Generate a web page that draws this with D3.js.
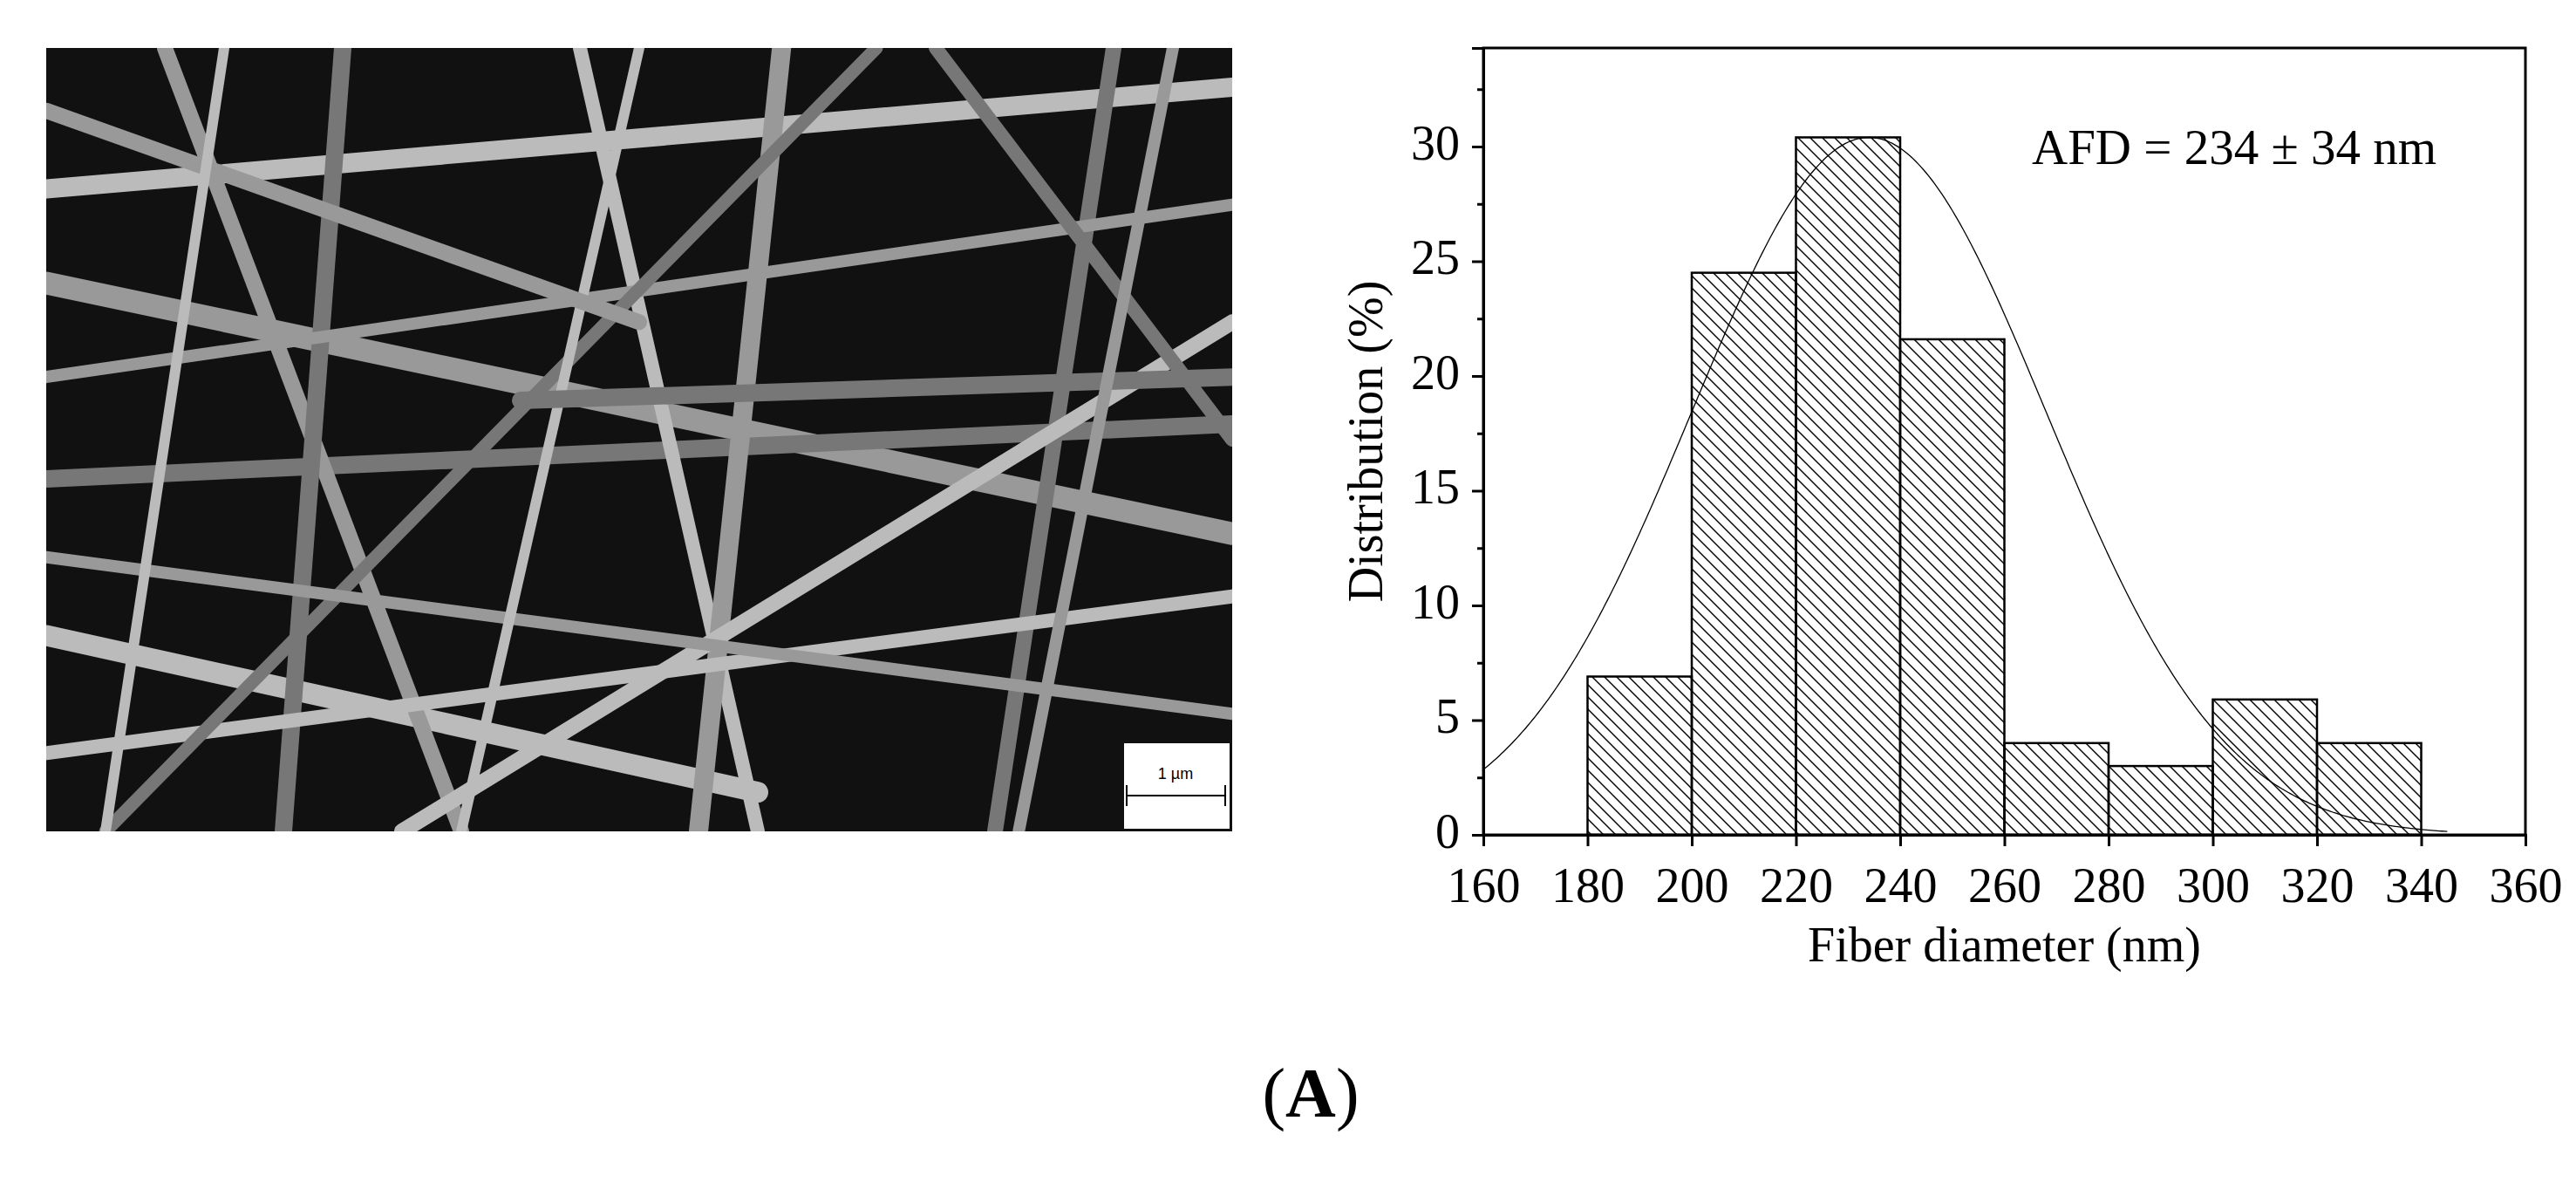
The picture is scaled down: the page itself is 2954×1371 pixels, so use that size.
<!DOCTYPE html>
<html><head><meta charset="utf-8">
<script src="https://cdn.jsdelivr.net/npm/d3@7"></script>
<style>body{margin:0;background:#fff}svg{display:block}text{font-family:"Liberation Serif","Times New Roman",serif}</style>
</head><body>
<svg id="c" width="2954" height="1371"></svg>
<script>
const binStarts = [180,200,220,240,260,280,300,320];
const binWidth = 20;
const distribution = [6.9,24.5,30.4,21.6,4,3,5.9,4];
const xTicks = [160,180,200,220,240,260,280,300,320,340,360];
const yTicks = [0,5,10,15,20,25,30];
const fitMean = 234, fitSd = 34, fitPeak = 30.4;
// decorative fibers for the micrograph panel (normalized image coords)
const fibers = [
 [0,0.18,1,0.05,22],[0,0.3,1,0.62,26],[0,0.55,1,0.48,20],[0,0.75,0.6,0.95,24],[0.1,0,0.35,1,18],
 [0.25,0,0.2,1,20],[0.45,0,0.6,1,16],[0.62,0,0.55,1,22],[0.9,0,0.8,1,18],[0,0.9,1,0.7,16],
 [0,0.42,1,0.2,14],[0.05,1,0.7,0,15],[0.3,1,1,0.35,18],[0,0.65,1,0.85,14],[0.75,0,1,0.5,16],
 [0.5,0,0.35,1,12],[0,0.08,0.5,0.35,18],[0.4,0.45,1,0.42,20],[0.15,0,0.05,1,12],[0.82,1,0.95,0,14]
];

const svg = d3.select("#c");
const img = {x:53,y:55,w:1360,h:898};
const g0 = svg.append("g");
g0.append("rect").attr("x",img.x).attr("y",img.y).attr("width",img.w).attr("height",img.h).attr("fill","#111");
const ix = d3.scaleLinear([0,1],[img.x,img.x+img.w]), iy = d3.scaleLinear([0,1],[img.y,img.y+img.h]);
g0.append("clipPath").attr("id","ic").append("rect").attr("x",img.x).attr("y",img.y).attr("width",img.w).attr("height",img.h);
const fg = g0.append("g").attr("clip-path","url(#ic)");
fibers.forEach((f,i)=>{
  fg.append("line").attr("x1",ix(f[0])).attr("y1",iy(f[1])).attr("x2",ix(f[2])).attr("y2",iy(f[3]))
   .attr("stroke",i%3==0?"#bbb":i%3==1?"#999":"#777").attr("stroke-width",f[4]).attr("stroke-linecap","round");
});
g0.append("rect").attr("x",1289).attr("y",852).attr("width",121).attr("height",98).attr("fill","#fff");
g0.append("line").attr("x1",1292).attr("x2",1405).attr("y1",912).attr("y2",912).attr("stroke","#000").attr("stroke-width",2);
g0.append("line").attr("x1",1292).attr("x2",1292).attr("y1",900).attr("y2",924).attr("stroke","#000").attr("stroke-width",2);
g0.append("line").attr("x1",1405).attr("x2",1405).attr("y1",900).attr("y2",924).attr("stroke","#000").attr("stroke-width",2);
g0.append("text").attr("x",1348).attr("y",893).attr("text-anchor","middle").style("font-family","Liberation Sans").attr("font-size",18).text("1 µm");

const L=1701,R=2896,T=55,B=957;
const x = d3.scaleLinear([160,360],[L,R]);
const y = d3.scaleLinear([0,(B-T)/(789/30)],[B,T]);
const defs = svg.append("defs");
const p = defs.append("pattern").attr("id","hatch").attr("patternUnits","userSpaceOnUse").attr("width",14).attr("height",14);
p.append("path").attr("d","M-2,-2 L16,16 M-16,-2 L2,16 M12,-2 L30,16").attr("stroke","#000").attr("stroke-width",1.4);
const g = svg.append("g");
g.selectAll("rect.bar").data(distribution).join("rect").attr("class","bar")
 .attr("x",(d,i)=>x(binStarts[i])).attr("width",(d,i)=>x(binStarts[i]+binWidth)-x(binStarts[i]))
 .attr("y",d=>y(d)).attr("height",d=>B-y(d))
 .attr("fill","url(#hatch)").attr("stroke","#000").attr("stroke-width",2.5);
const xs = d3.range(160,345.5,0.5);
g.append("path").datum(xs).attr("fill","none").attr("stroke","#000").attr("stroke-width",1.3)
 .attr("d",d3.line().x(d=>x(d)).y(d=>y(fitPeak*Math.exp(-((d-fitMean)**2)/(2*fitSd*fitSd)))));
g.append("rect").attr("x",L).attr("y",T).attr("width",R-L).attr("height",B-T).attr("fill","none").attr("stroke","#000").attr("stroke-width",3);
const xa = g.append("g").attr("transform",`translate(0,${B})`).call(d3.axisBottom(x).tickValues(xTicks).tickSize(13).tickPadding(24));
const ya = g.append("g").attr("transform",`translate(${L},0)`).call(d3.axisLeft(y).tickValues(yTicks).tickSize(13).tickPadding(14));
const yMinor = d3.range(2.5,34,5);
g.append("g").attr("transform",`translate(${L},0)`).call(d3.axisLeft(y).tickValues(yMinor).tickSize(7).tickFormat(""))
 .call(s=>s.select(".domain").remove());
[xa,ya].forEach(a=>{a.select(".domain").attr("stroke-width",3);
  a.selectAll("text").attr("font-size",56).attr("fill","#000").style("font-family","Liberation Serif");});
ya.selectAll("text").attr("dy","0.25em");
svg.selectAll(".tick line").attr("stroke-width",3);
svg.append("text").attr("x",(L+R)/2).attr("y",1102).attr("text-anchor","middle").attr("font-size",56).text("Fiber diameter (nm)");
svg.append("text").attr("transform",`translate(1585,${(T+B)/2}) rotate(-90)`).attr("text-anchor","middle").attr("font-size",56).text("Distribution (%)");
svg.append("text").attr("x",2330).attr("y",188).attr("font-size",57).text("AFD = 234 ± 34 nm");
svg.append("text").attr("x",1503).attr("y",1280).attr("text-anchor","middle").attr("font-size",80)
 .html('(<tspan font-weight="bold">A</tspan>)');
</script></body></html>
